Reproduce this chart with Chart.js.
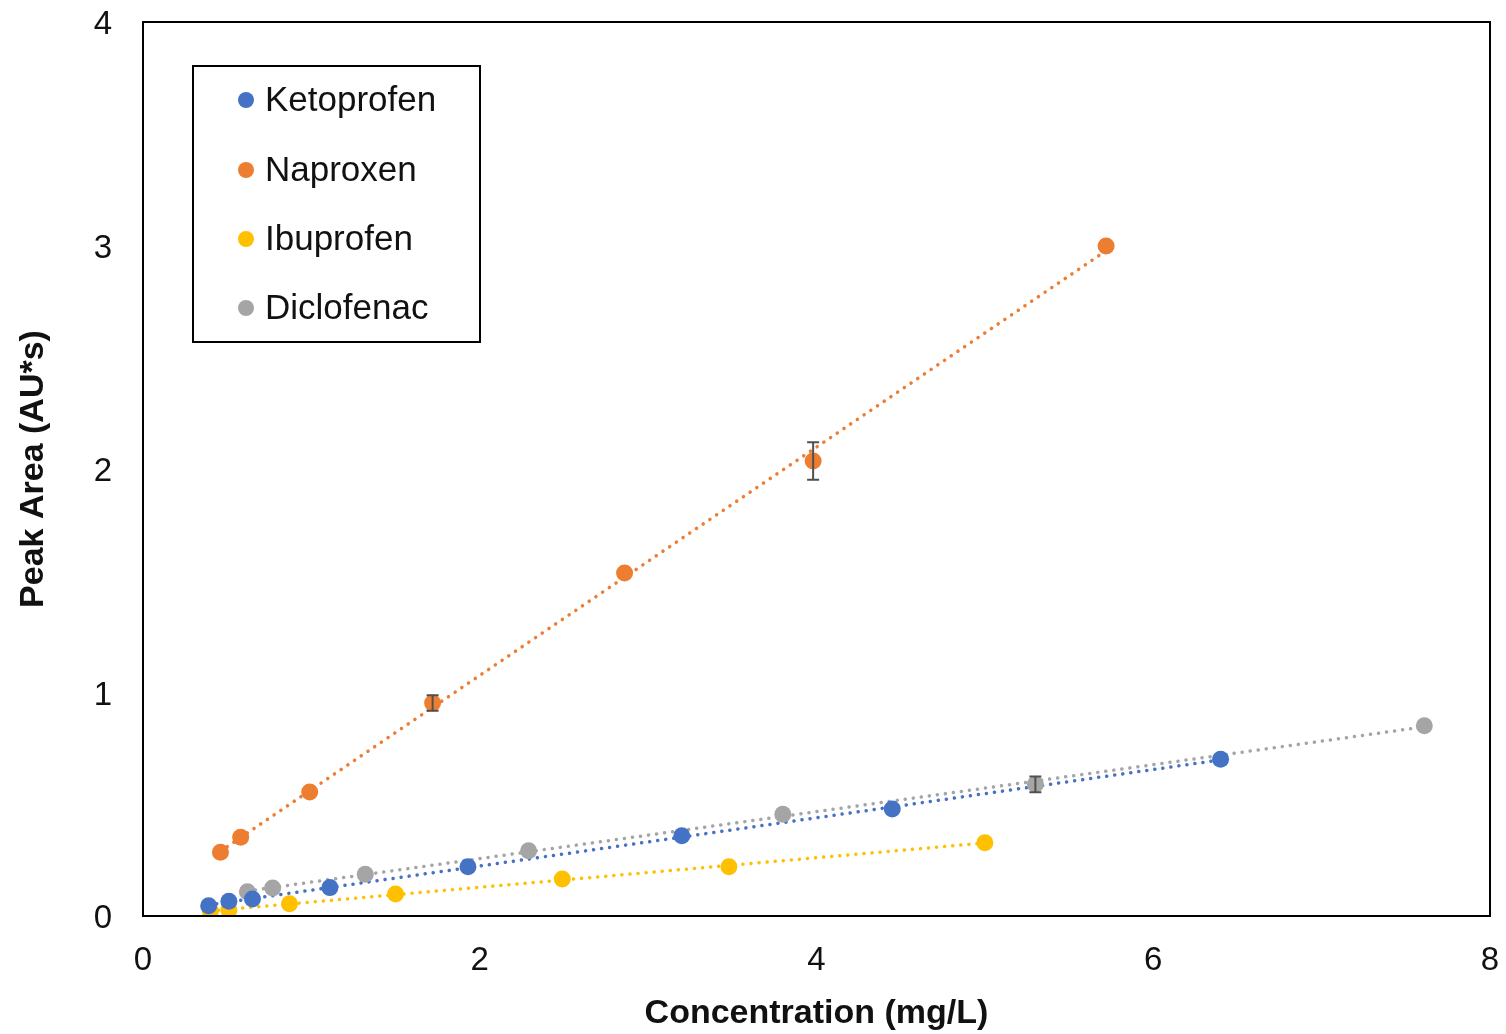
<!DOCTYPE html>
<html>
<head>
<meta charset="utf-8">
<script src="https://cdn.jsdelivr.net/npm/chart.js@4.4.1/dist/chart.umd.min.js"></script>
<style>
    html, body { margin: 0; padding: 0; background: #fff; }
    #wrap { width: 1506px; height: 1034px; position: relative; }
</style>
</head>
<body>
<div id="wrap"><canvas id="calChart"></canvas></div>
<script>
// ---------- data ----------
const seriesNames = ['Ketoprofen', 'Naproxen', 'Ibuprofen', 'Diclofenac'];
const seriesColors = ['#4472C4', '#ED7D31', '#FFC000', '#A5A5A5'];

const ketoX = [0.39, 0.51, 0.65, 1.11, 1.93, 3.20, 4.45, 6.40];
const ketoY = [0.046, 0.066, 0.076, 0.127, 0.220, 0.359, 0.479, 0.701];
const ketoErr = [0, 0, 0, 0, 0, 0, 0, 0];

const naproX = [0.46, 0.58, 0.99, 1.72, 2.86, 3.98, 5.72];
const naproY = [0.285, 0.352, 0.555, 0.953, 1.535, 2.036, 2.998];
const naproErr = [0, 0, 0, 0.035, 0, 0.084, 0];

const ibuX = [0.40, 0.51, 0.87, 1.50, 2.49, 3.48, 5.00];
const ibuY = [0.022, 0.027, 0.055, 0.098, 0.166, 0.220, 0.328];
const ibuErr = [0, 0, 0, 0, 0, 0, 0];

const dicloX = [0.62, 0.77, 1.32, 2.29, 3.80, 5.30, 7.61];
const dicloY = [0.109, 0.125, 0.187, 0.292, 0.455, 0.589, 0.851];
const dicloErr = [0, 0, 0, 0, 0, 0.035, 0];

const xTicks = [0, 2, 4, 6, 8];
const yTicks = [0, 1, 2, 3, 4];

const allX = [ketoX, naproX, ibuX, dicloX];
const allY = [ketoY, naproY, ibuY, dicloY];
const allErr = [ketoErr, naproErr, ibuErr, dicloErr];

// ---------- helpers ----------
const toPoints = (xs, ys) => xs.map((x, i) => ({ x: x, y: ys[i] }));

// least-squares trendline between first and last x
const trend = (xs, ys) => {
    const n = xs.length;
    const mx = xs.reduce((a, b) => a + b, 0) / n;
    const my = ys.reduce((a, b) => a + b, 0) / n;
    let sxy = 0, sxx = 0;
    xs.forEach((x, i) => { sxy += (x - mx) * (ys[i] - my); sxx += (x - mx) * (x - mx); });
    const slope = sxy / sxx;
    const icpt = my - slope * mx;
    const x0 = Math.min(...xs), x1 = Math.max(...xs);
    return [{ x: x0, y: icpt + slope * x0 }, { x: x1, y: icpt + slope * x1 }];
};

const FONT = "'Liberation Sans', Arial, sans-serif";

// scatter datasets first so they sit on top of the trendlines
const datasets = [];
seriesNames.forEach((name, i) => {
    datasets.push({
        type: 'scatter',
        label: name,
        data: toPoints(allX[i], allY[i]),
        errors: allErr[i],
        backgroundColor: seriesColors[i],
        borderWidth: 0,
        pointRadius: 8.5,
        pointHoverRadius: 8.5
    });
});
seriesNames.forEach((name, i) => {
    datasets.push({
        type: 'line',
        label: name + ' trend',
        data: trend(allX[i], allY[i]),
        borderColor: seriesColors[i],
        borderWidth: 3.5,
        borderDash: [0.1, 8],
        borderCapStyle: 'round',
        pointRadius: 0,
        fill: false
    });
});

/* ---------- plugins: error bars, plot frame, legend box ---------- */
const errorBars = {
    id: 'errorBars',
    afterDatasetsDraw(chart) {
        const { ctx, scales: { x, y } } = chart;
        ctx.save();
        ctx.strokeStyle = '#505050';
        ctx.lineWidth = 2;
        chart.data.datasets.forEach((ds) => {
            if (!ds.errors) return;
            ds.data.forEach((p, i) => {
                const e = ds.errors[i];
                if (!e) return;
                const px = x.getPixelForValue(p.x);
                const top = y.getPixelForValue(p.y + e);
                const bot = y.getPixelForValue(p.y - e);
                ctx.beginPath();
                ctx.moveTo(px, top); ctx.lineTo(px, bot);
                ctx.moveTo(px - 6, top); ctx.lineTo(px + 6, top);
                ctx.moveTo(px - 6, bot); ctx.lineTo(px + 6, bot);
                ctx.stroke();
            });
        });
        ctx.restore();
    }
};

const frame = {
    id: 'frame',
    afterDraw(chart) {
        const { ctx, chartArea: a } = chart;
        ctx.save();
        ctx.strokeStyle = '#000';
        ctx.lineWidth = 2;
        ctx.strokeRect(a.left, a.top, a.right - a.left, a.bottom - a.top);
        ctx.restore();
    }
};

const legendBox = {
    id: 'legendBox',
    afterDraw(chart) {
        const { ctx } = chart;
        ctx.save();
        ctx.fillStyle = '#fff';
        ctx.fillRect(193, 66, 287, 276);
        ctx.strokeStyle = '#000';
        ctx.lineWidth = 2;
        ctx.strokeRect(193, 66, 287, 276);
        const rows = [100, 170, 239, 308];
        ctx.font = '35px ' + FONT;
        ctx.textBaseline = 'middle';
        seriesNames.forEach((name, i) => {
            ctx.fillStyle = seriesColors[i];
            ctx.beginPath();
            ctx.arc(246, rows[i], 8, 0, Math.PI * 2);
            ctx.fill();
            ctx.fillStyle = '#111';
            ctx.fillText(name, 265, rows[i] + 1);
        });
        ctx.restore();
    }
};

new Chart(document.getElementById('calChart'), {
    type: 'scatter',
    data: { datasets: datasets },
    plugins: [errorBars, frame, legendBox],
    options: {
        responsive: true,
        maintainAspectRatio: false,
        animation: false,
        layout: { padding: { top: 22, right: 16, left: 0, bottom: 0 } },
        plugins: { legend: { display: false }, tooltip: { enabled: false } },
        scales: {
            x: {
                type: 'linear',
                min: 0,
                max: 8,
                afterFit: (s) => { s.height = 118; s.paddingLeft = 0; s.paddingRight = 0; },
                afterBuildTicks: (s) => { s.ticks = xTicks.map((v) => ({ value: v })); },
                grid: { display: false, drawTicks: false },
                border: { display: false },
                ticks: { padding: 25, color: '#111', font: { family: FONT, size: 33 } },
                title: {
                    display: true,
                    text: 'Concentration (mg/L)',
                    color: '#111',
                    padding: { top: 0, bottom: 0 },
                    font: { family: FONT, size: 34, weight: 'bold' }
                }
            },
            y: {
                type: 'linear',
                min: 0,
                max: 4,
                afterFit: (s) => { s.width = 143; s.paddingTop = 0; s.paddingBottom = 0; },
                afterBuildTicks: (s) => { s.ticks = yTicks.map((v) => ({ value: v })); },
                grid: { display: false, drawTicks: false },
                border: { display: false },
                ticks: { padding: 31, labelOffset: 3, color: '#111', font: { family: FONT, size: 33 } },
                title: {
                    display: true,
                    text: 'Peak Area (AU*s)',
                    color: '#111',
                    padding: { top: 13, bottom: 0 },
                    font: { family: FONT, size: 34, weight: 'bold' }
                }
            }
        }
    }
});
</script>
</body>
</html>
